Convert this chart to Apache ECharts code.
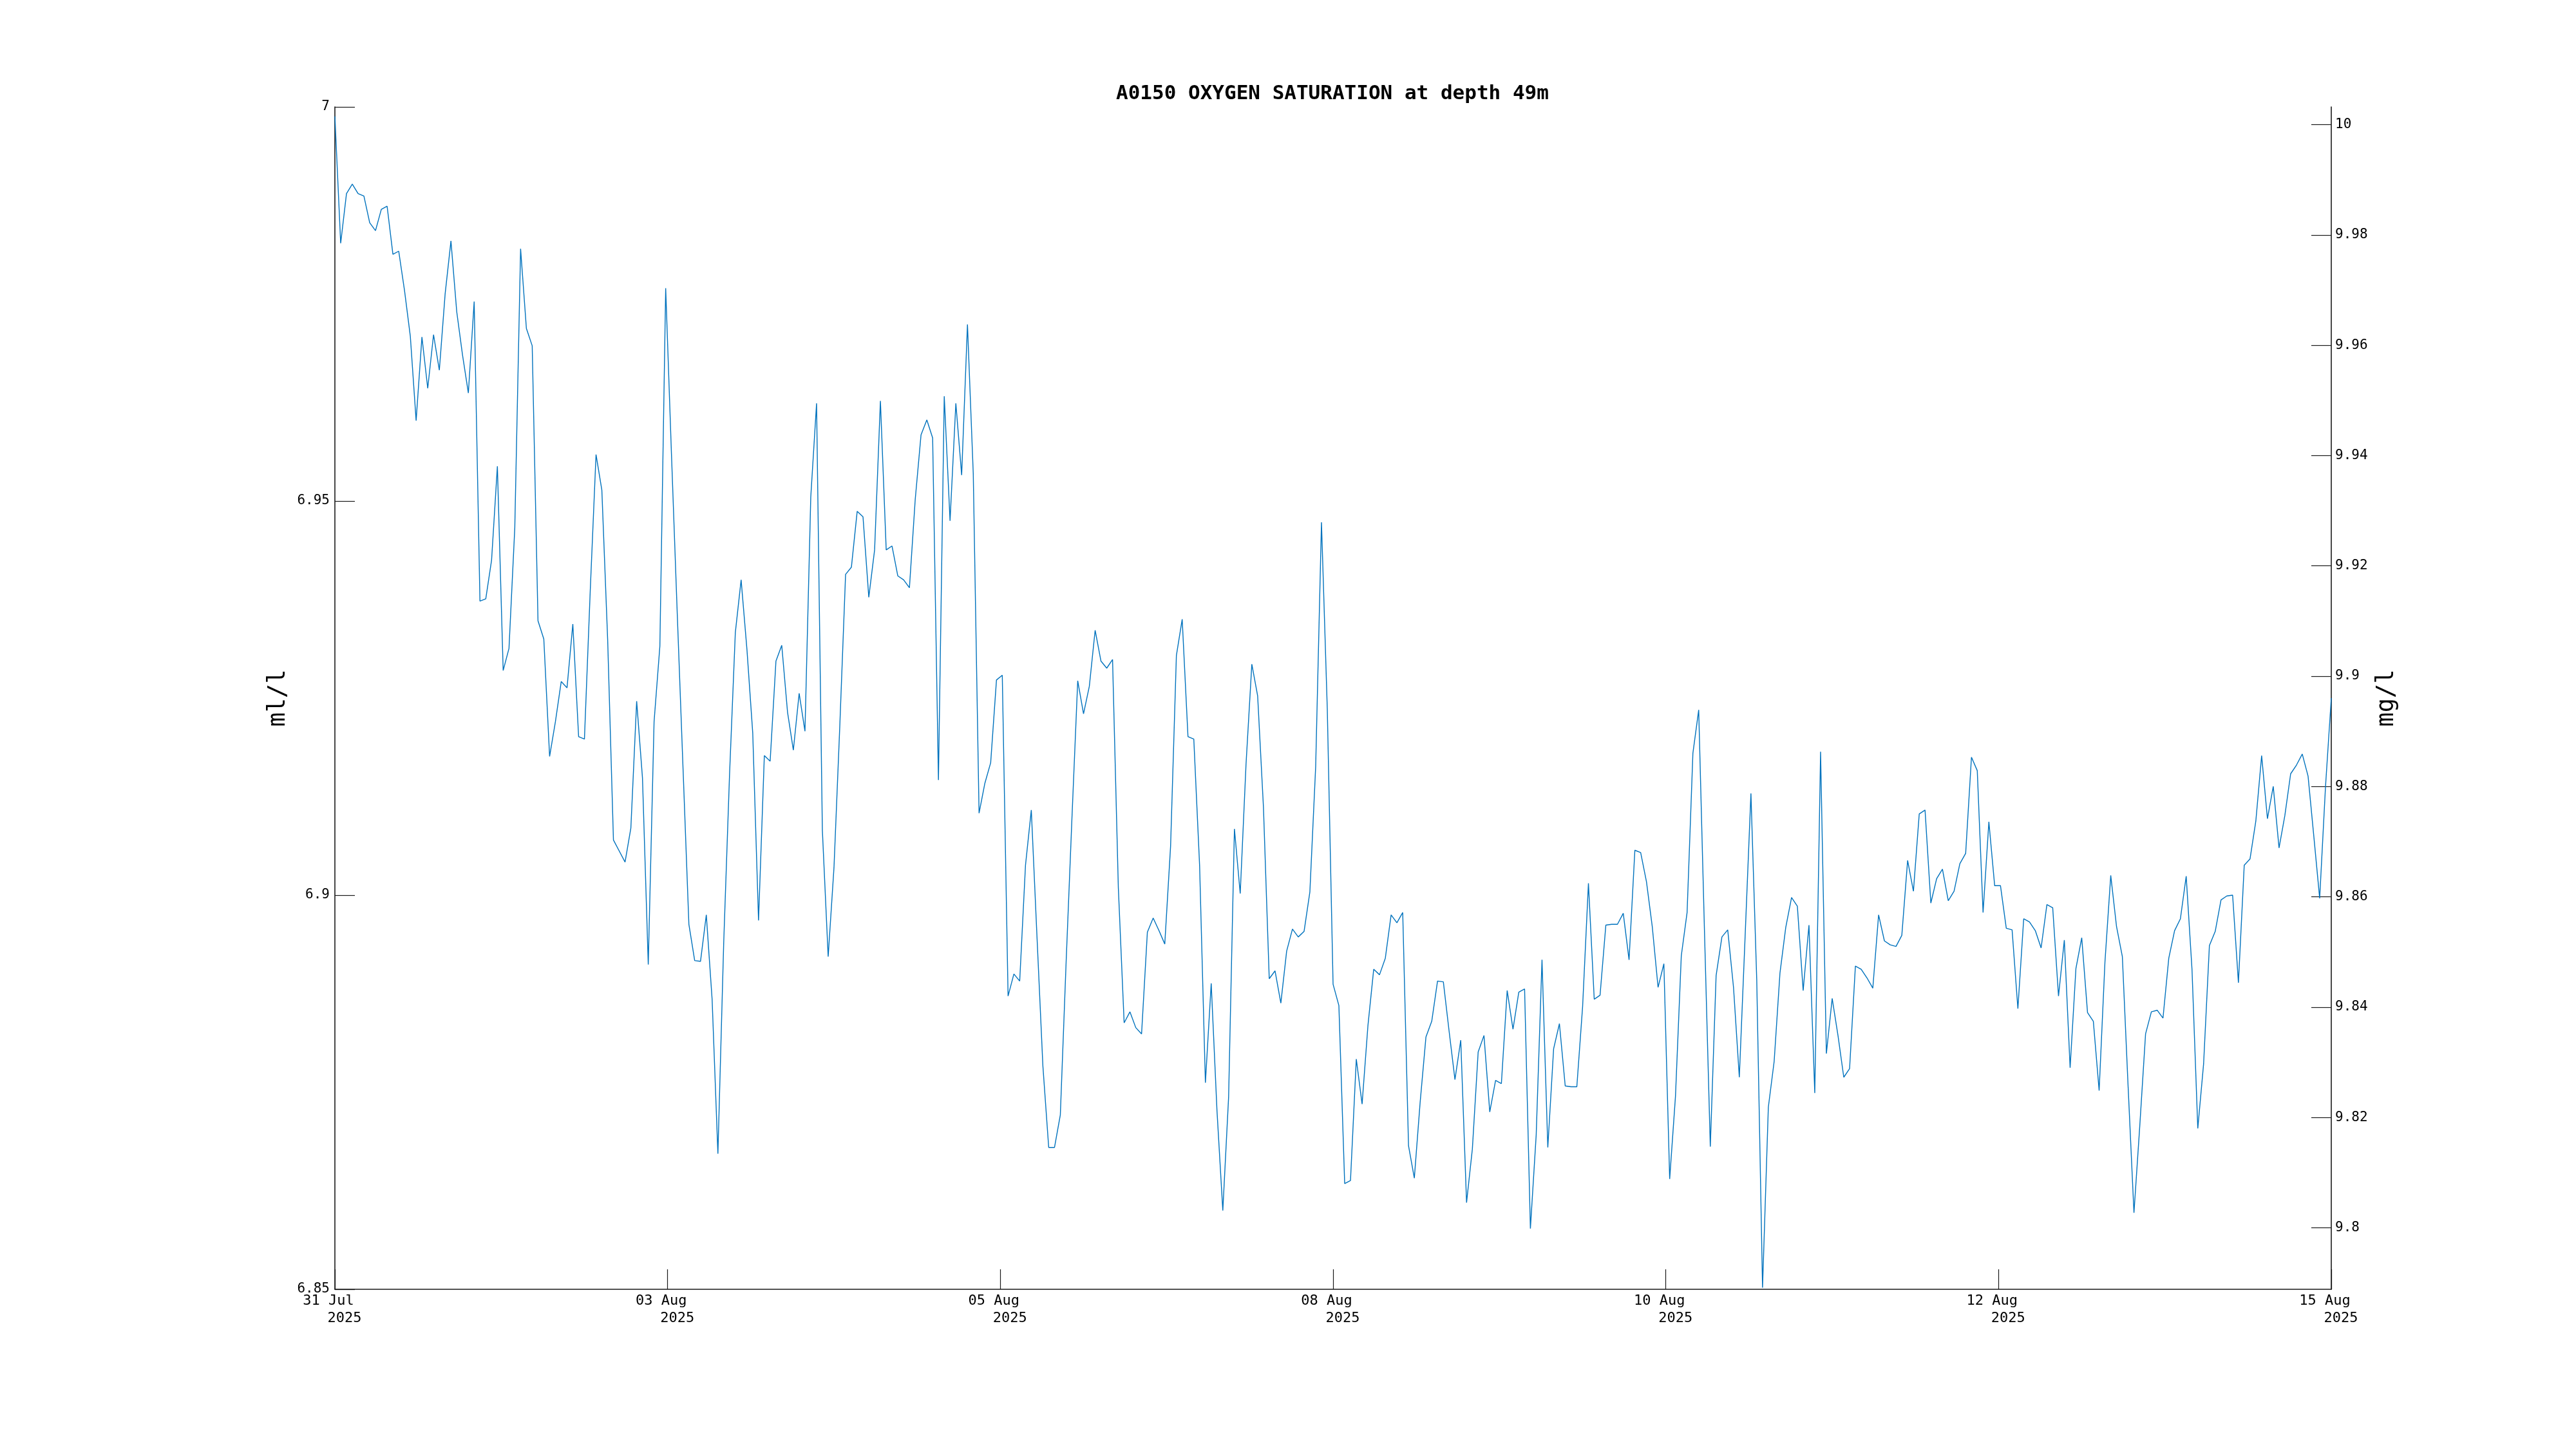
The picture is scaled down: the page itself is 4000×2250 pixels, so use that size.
<!DOCTYPE html>
<html>
<head>
<meta charset="utf-8">
<script src="https://cdn.jsdelivr.net/npm/echarts@6/dist/echarts.min.js"></script>
<style>html,body{margin:0;padding:0;background:#fff}#c{width:4000px;height:2250px}</style>
</head>
<body>
<div id="c"></div>
<script>
// hourly samples of oxygen (ml/l), one per hour from the start of the record
const oxygenMlPerL = [
6.9988, 6.9827, 6.9890, 6.9902, 6.9890, 6.9887, 6.9853, 6.9843, 6.9870, 6.9874,
6.9813, 6.9817, 6.9767, 6.9709, 6.9602, 6.9708, 6.9643, 6.9711, 6.9666, 6.9763,
6.9830, 6.9740, 6.9685, 6.9637, 6.9753, 6.9373, 6.9376, 6.9425, 6.9544, 6.9285,
6.9313, 6.9466, 6.9820, 6.9719, 6.9697, 6.9348,
6.9325, 6.9176, 6.9220, 6.9271, 6.9263, 6.9344, 6.9201, 6.9198, 6.9386, 6.9559,
6.9514, 6.9325, 6.9070, 6.9056, 6.9042, 6.9085, 6.9246, 6.9149, 6.8912, 6.9220,
6.9316, 6.9770, 6.9559, 6.9356, 6.9159, 6.8963, 6.8917, 6.8916, 6.8975, 6.8868,
6.8672, 6.8940, 6.9152, 6.9333,
6.9400, 6.9312, 6.9206, 6.8968, 6.9177, 6.9170, 6.9297, 6.9317, 6.9232, 6.9184,
6.9256, 6.9208, 6.9505, 6.9624, 6.9082, 6.8922, 6.9035, 6.9214, 6.9407, 6.9416,
6.9487, 6.9480, 6.9378, 6.9438, 6.9627, 6.9438, 6.9443, 6.9405, 6.9400, 6.9390,
6.9502, 6.9584, 6.9603, 6.9580,
6.9146, 6.9633, 6.9475, 6.9624, 6.9533, 6.9724, 6.9535, 6.9104, 6.9142, 6.9168,
6.9273, 6.9279, 6.8872, 6.8900, 6.8891, 6.9038, 6.9108, 6.8944, 6.8783, 6.8680,
6.8680, 6.8721, 6.8915, 6.9097, 6.9272, 6.9230, 6.9265, 6.9336, 6.9297, 6.9288,
6.9299, 6.9009, 6.8838, 6.8852, 6.8832,
6.8824, 6.8953, 6.8971, 6.8955, 6.8938, 6.9062, 6.9304, 6.9350, 6.9201, 6.9198,
6.9038, 6.8762, 6.8888, 6.8726, 6.8600, 6.8744, 6.9084, 6.9002, 6.9166, 6.9293,
6.9253, 6.9112, 6.8894, 6.8904, 6.8863, 6.8929, 6.8957, 6.8947, 6.8954, 6.9004,
6.9163, 6.9473, 6.9237, 6.8887, 6.8860, 6.8634, 6.8638, 6.8792, 6.8735, 6.8834,
6.8906,
6.8899, 6.8920, 6.8975, 6.8965, 6.8978, 6.8682, 6.8641, 6.8737, 6.8820, 6.8840,
6.8891, 6.8890, 6.8827, 6.8766, 6.8816, 6.8610, 6.8678, 6.8801, 6.8822, 6.8725,
6.8765, 6.8761, 6.8879, 6.8830, 6.8877, 6.8881, 6.8577, 6.8696, 6.8918, 6.8680,
6.8805, 6.8837, 6.8758, 6.8757, 6.8757, 6.8859, 6.9015, 6.8868, 6.8873, 6.8962,
6.8963,
6.8963, 6.8977, 6.8918, 6.9057, 6.9054, 6.9017, 6.8960, 6.8883, 6.8913, 6.8640,
6.8745, 6.8923, 6.8978, 6.9180, 6.9235, 6.8953, 6.8681, 6.8898, 6.8947, 6.8956,
6.8883, 6.8769, 6.8948, 6.9129, 6.8893, 6.8502, 6.8731, 6.8789, 6.8901, 6.8959,
6.8997, 6.8986, 6.8879, 6.8962, 6.8749, 6.9182, 6.8799, 6.8869, 6.8822, 6.8769,
6.8780,
6.8910, 6.8906, 6.8895, 6.8882, 6.8975, 6.8942, 6.8937, 6.8935, 6.8949, 6.9044,
6.9005, 6.9103, 6.9108, 6.8990, 6.9021, 6.9033, 6.8993, 6.9005, 6.9040, 6.9053,
6.9175, 6.9158, 6.8978, 6.9093, 6.9012, 6.9012, 6.8958, 6.8956, 6.8856, 6.8970,
6.8966, 6.8955, 6.8933, 6.8988, 6.8984, 6.8872, 6.8943, 6.8781, 6.8907, 6.8946,
6.8851,
6.8840, 6.8752, 6.8915, 6.9025, 6.8960, 6.8922, 6.8756, 6.8597, 6.8707, 6.8824,
6.8852, 6.8854, 6.8844, 6.8920, 6.8955, 6.8970, 6.9024, 6.8906, 6.8704, 6.8786,
6.8936, 6.8954, 6.8994, 6.8999, 6.9000, 6.8889, 6.9038, 6.9046, 6.9094, 6.9177,
6.9097, 6.9138, 6.9060, 6.9101, 6.9154, 6.9165, 6.9179, 6.9151, 6.9074, 6.8996,
6.9137, 6.9250
];

// x tick labels (date, year)
const xTickDates = ["31 Jul", "03 Aug", "05 Aug", "08 Aug", "10 Aug", "12 Aug", "15 Aug"];
const xTickYears = ["2025", "2025", "2025", "2025", "2025", "2025", "2025"];
// left axis (ml/l) range and ticks
const leftMin = 6.85, leftMax = 7.0, leftStep = 0.05;
// right axis (mg/l) tick labels
const rightTicks = [9.8, 9.82, 9.84, 9.86, 9.88, 9.9, 9.92, 9.94, 9.96, 9.98, 10];
const mlToMg = 1.42903;

const hours = oxygenMlPerL.map((v, i) => i);
const lastHour = hours[hours.length - 1];
const xStep = lastHour / (xTickDates.length - 1);
const seriesData = oxygenMlPerL.map((v, i) => [hours[i], v]);

const FONT = "DejaVu Sans Mono";
const AX = "#1a1a1a";

const chart = echarts.init(document.getElementById('c'), null, {renderer: 'canvas'});
chart.setOption({
  animation: false,
  backgroundColor: '#ffffff',
  title: {
    text: 'A0150 OXYGEN SATURATION at depth 49m',
    left: 1728, top: 125,
    textStyle: {fontFamily: FONT, fontWeight: 'bold', fontSize: 31, color: '#000'}
  },
  grid: {left: 520, right: 380, top: 166, bottom: 248, containLabel: false, outerBoundsMode: 'none'},
  xAxis: {
    type: 'value', min: 0, max: lastHour, interval: xStep,
    axisLine: {show: true, onZero: false, lineStyle: {color: AX, width: 1.6}},
    axisTick: {show: true, inside: true, length: 31, lineStyle: {color: AX, width: 1.2}},
    splitLine: {show: false},
    axisLabel: {
      margin: 5,
      formatter: function (v) {
        const k = Math.round(v / xStep);
        return '{a|' + xTickDates[k] + '}\n{b|' + xTickYears[k] + '}';
      },
      rich: {
        a: {fontFamily: FONT, fontSize: 22, color: '#000', lineHeight: 27, padding: [0, 20, 0, 0]},
        b: {fontFamily: FONT, fontSize: 22, color: '#000', lineHeight: 27, padding: [0, 0, 0, 30]}
      }
    }
  },
  yAxis: [{
    type: 'value', min: leftMin, max: leftMax, interval: leftStep,
    name: 'ml/l', nameLocation: 'middle', nameGap: 66, nameRotate: 90,
    nameTextStyle: {fontFamily: FONT, fontSize: 37, color: '#000'},
    axisLine: {show: true, lineStyle: {color: AX, width: 1.6}},
    axisTick: {show: true, inside: true, length: 31, lineStyle: {color: AX, width: 1.2}},
    splitLine: {show: false},
    axisLabel: {margin: 8, fontFamily: FONT, fontSize: 21, color: '#000',
      formatter: v => String(parseFloat(v.toFixed(4)))}
  }, {
    type: 'value', position: 'right', min: leftMin * mlToMg, max: leftMax * mlToMg,
    name: 'mg/l', nameLocation: 'middle', nameGap: 68, nameRotate: 90,
    nameTextStyle: {fontFamily: FONT, fontSize: 37, color: '#000'},
    axisLine: {show: true, lineStyle: {color: AX, width: 1.6}},
    axisTick: {show: true, inside: true, length: 31, customValues: rightTicks, lineStyle: {color: AX, width: 1.2}},
    splitLine: {show: false},
    axisLabel: {margin: 6, fontFamily: FONT, fontSize: 21, color: '#000', customValues: rightTicks,
      showMinLabel: true, showMaxLabel: true,
      formatter: v => String(parseFloat(v.toFixed(4)))}
  }],
  series: [{
    type: 'line', data: seriesData, yAxisIndex: 0,
    showSymbol: false, symbol: 'none',
    lineStyle: {color: '#0072bd', width: 1.4},
    silent: true
  }]
});
</script>
</body>
</html>
